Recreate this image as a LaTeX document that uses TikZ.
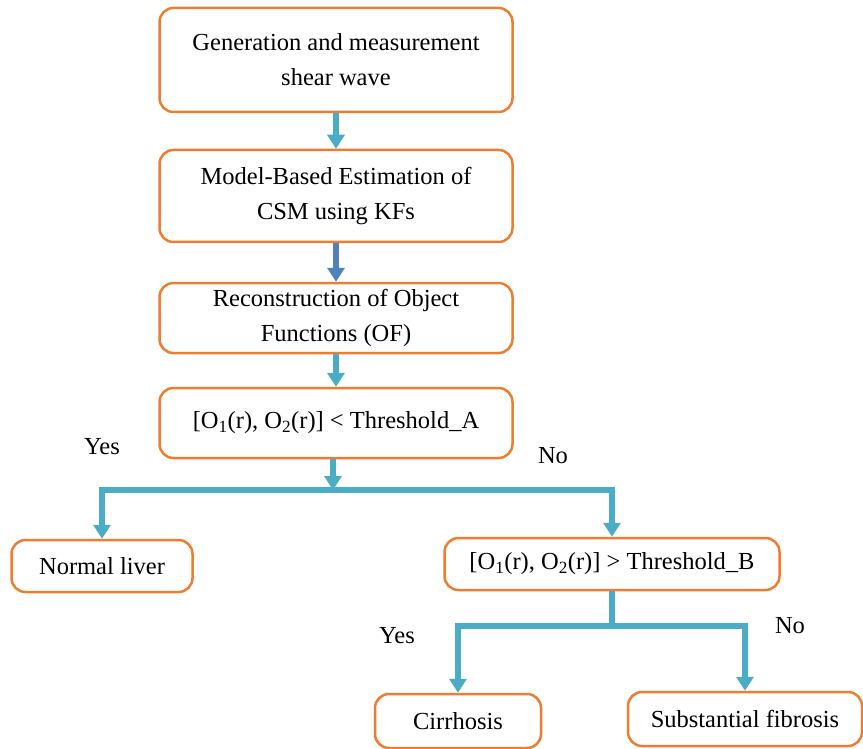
\documentclass[tikz,border=0pt]{standalone}
\usepackage{fontspec}
\setmainfont{Liberation Serif}
\usetikzlibrary{arrows.meta,positioning}
\definecolor{boxorange}{HTML}{ED7D31}
\definecolor{arrteal}{HTML}{4BACC6}
\definecolor{arrblue}{HTML}{4F81BD}
\tikzset{
	procbox/.style={draw=boxorange,line width=2.5pt,rounded corners=14pt,align=center,inner sep=0pt,fill=white},
	flow/.style={draw=arrteal,line width=6pt,-{Triangle[width=17pt,length=14pt]}},
	branch/.style={draw=arrteal,line width=6pt},
	answer/.style={inner sep=0pt}
}
\begin{document}
\begin{tikzpicture}[x=1pt,y=-1pt,font=\fontsize{24.5}{35}\selectfont]
			\useasboundingbox (0,0) rectangle (863,749);
			\node[procbox,minimum width=353pt,minimum height=104pt] (gen) at (336,60) {Generation and measurement\\shear wave};
			\node[procbox,minimum width=353pt,minimum height=92pt] (est) at (336,196) {Model-Based Estimation of\\CSM using KFs};
			\node[procbox,minimum width=353pt,minimum height=70pt] (rec) at (336,318) {Reconstruction of Object\\Functions (OF)};
			\node[procbox,minimum width=353pt,minimum height=70pt] (thrA) at (336,423) {[O\textsubscript{1}(r), O\textsubscript{2}(r)] < Threshold\_A};
			\node[procbox,minimum width=181pt,minimum height=52pt] (normal) at (102,566) {Normal liver};
			\node[procbox,minimum width=335pt,minimum height=52pt] (thrB) at (612,564) {[O\textsubscript{1}(r), O\textsubscript{2}(r)] > Threshold\_B};
			\node[procbox,minimum width=166pt,minimum height=54pt] (cirr) at (458,721) {Cirrhosis};
			\node[procbox,minimum width=234pt,minimum height=54pt] (fib) at (745,719) {Substantial fibrosis};
			\coordinate (splitA) at (333,490);
			\coordinate (splitB) at (612,626);
			\draw[flow] (gen) -- (est);
			\draw[flow,draw=arrblue] (est) -- (rec);
			\draw[flow] (rec) -- (thrA);
			\draw[flow] (thrA.south -| splitA) -- (splitA);
			\draw[flow] (splitA) -| (normal.north);
			\draw[flow] (splitA) -| (thrB.north);
			\draw[branch] (thrB.south) -- (splitB);
			\draw[flow] (splitB) -| (cirr.north);
			\draw[flow] (splitB) -| (fib.north);
			\path
			(102,447) node[answer]{Yes}
			(553,456) node[answer]{No}
			(397,636) node[answer]{Yes}
			(790,626) node[answer]{No}
			;
		\end{tikzpicture}
\end{document}
